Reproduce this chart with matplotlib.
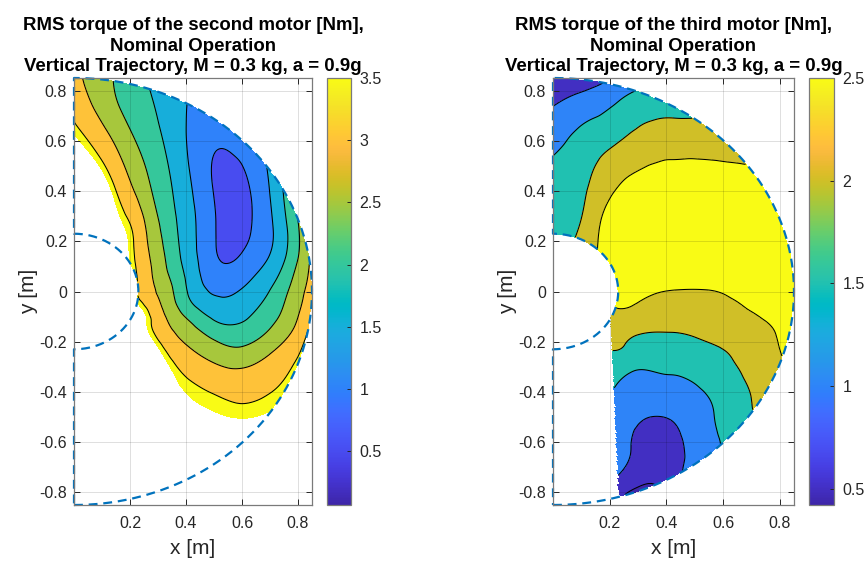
import numpy as np
import matplotlib
matplotlib.use("Agg")
import matplotlib.pyplot as plt
import matplotlib.tri as mtri
from matplotlib.colors import LinearSegmentedColormap, Normalize
from matplotlib.cm import ScalarMappable

plt.rcParams["font.family"] = ["Liberation Sans", "DejaVu Sans"]

# ---------------------------------------------------------------------------
# Workspace of the arm: half annulus x >= 0, R_IN <= r <= R_OUT  [m]
R_IN, R_OUT = 0.23, 0.85

# Sampling grid of the workspace (polar)
angle_deg = [-90, -80, -70, -60, -50, -40, -30, -20, -10, 0,
             10, 20, 30, 40, 50, 60, 70, 80, 90]
radius_m = [0.23, 0.33, 0.43, 0.54, 0.64, 0.75, 0.85]

# RMS torque of motor 2 [Nm]; one row per radius, one column per angle
torque_motor2 = [
    [4.70, 4.60, 4.50, 4.40, 4.35, 4.30, 4.20, 4.00, 3.60, 3.48, 3.50, 3.56, 3.66, 3.80, 4.00, 4.20, 4.40, 4.60, 4.80],
    [4.50, 4.40, 4.30, 4.20, 4.15, 4.00, 3.50, 3.18, 2.89, 2.72, 2.63, 2.67, 2.82, 3.09, 3.45, 3.68, 4.05, 4.30, 4.60],
    [4.35, 4.25, 4.15, 4.10, 4.00, 3.66, 3.13, 2.70, 2.16, 1.78, 1.72, 1.79, 2.00, 2.29, 2.64, 3.08, 3.52, 4.05, 4.40],
    [4.25, 4.15, 4.05, 3.95, 3.78, 3.48, 3.02, 2.42, 1.80, 1.42, 1.06, 1.00, 1.27, 1.61, 2.02, 2.45, 2.95, 3.50, 4.00],
    [4.30, 4.20, 4.10, 3.95, 3.75, 3.52, 3.08, 2.50, 2.05, 1.70, 1.25, 0.90, 0.80, 1.03, 1.50, 2.04, 2.50, 3.07, 3.60],
    [4.40, 4.30, 4.20, 4.00, 3.80, 3.60, 3.34, 3.06, 2.64, 2.38, 1.85, 1.45, 1.10, 0.90, 1.08, 1.64, 2.16, 2.65, 3.33],
    [4.60, 4.50, 4.40, 4.20, 4.00, 3.80, 3.60, 3.56, 3.50, 3.20, 2.92, 2.50, 1.90, 1.30, 1.20, 1.42, 1.92, 2.47, 3.15],
]

# RMS torque of motor 3 [Nm]
torque_motor3 = [
    [1.70, 1.74, 1.78, 1.85, 2.00, 2.15, 2.35, 2.45, 2.60, 2.68, 2.72, 2.72, 2.68, 2.58, 2.45, 2.20, 2.00, 1.80, 1.70],
    [1.55, 1.55, 1.60, 1.70, 1.92, 2.00, 2.06, 2.28, 2.42, 2.58, 2.76, 2.85, 2.85, 2.75, 2.68, 2.47, 2.05, 1.82, 1.66],
    [1.35, 1.35, 1.40, 1.52, 1.47, 1.64, 1.84, 2.05, 2.27, 2.48, 2.75, 2.95, 2.95, 2.88, 2.75, 2.55, 2.15, 1.80, 1.60],
    [1.20, 1.15, 1.20, 1.21, 1.22, 1.45, 1.72, 2.00, 2.25, 2.48, 2.78, 3.00, 2.98, 2.90, 2.78, 2.48, 2.12, 1.75, 1.50],
    [1.15, 1.20, 1.20, 0.89, 1.05, 1.36, 1.75, 2.02, 2.30, 2.57, 2.78, 2.95, 2.92, 2.80, 2.60, 2.30, 1.95, 1.62, 1.27],
    [1.10, 1.20, 0.97, 0.68, 1.11, 1.53, 1.89, 2.20, 2.45, 2.75, 2.75, 2.85, 2.80, 2.60, 2.36, 2.12, 1.76, 1.28, 0.96],
    [1.00, 0.90, 0.40, 0.82, 1.34, 1.78, 2.13, 2.45, 2.65, 2.80, 2.75, 2.72, 2.65, 2.41, 2.14, 1.84, 1.50, 0.90, 0.68],
]

# Contour levels, colour limits and feasibility limits
levels_motor2 = [0.5, 1.0, 1.5, 2.0, 2.5, 3.0, 3.5]
levels_motor3 = [0.5, 1.0, 1.5, 2.0, 2.5]
clim_motor2 = (0.07, 3.5)
clim_motor3 = (0.42, 2.5)
torque_limit_motor2 = 3.65          # larger torques are not admissible
reach_limit_x = (0.235, 0.205)      # motor 3: reachable only right of this edge
reach_limit_y = (-0.82, -0.09)

cbar_ticks_motor2 = [0.5, 1, 1.5, 2, 2.5, 3, 3.5]
cbar_labels_motor2 = ["0.5", "1", "1.5", "2", "2.5", "3", "3.5"]
cbar_ticks_motor3 = [0.5, 1, 1.5, 2, 2.5]
cbar_labels_motor3 = ["0.5", "1", "1.5", "2", "2.5"]
x_ticks = [0.2, 0.4, 0.6, 0.8]
x_labels = ["0.2", "0.4", "0.6", "0.8"]
y_ticks = [-0.8, -0.6, -0.4, -0.2, 0, 0.2, 0.4, 0.6, 0.8]
y_labels = ["-0.8", "-0.6", "-0.4", "-0.2", "0", "0.2", "0.4", "0.6", "0.8"]

titles = [
    "RMS torque of the second motor [Nm],\nNominal Operation\nVertical Trajectory, M = 0.3 kg, a = 0.9g",
    "RMS torque of the third motor [Nm],\nNominal Operation\nVertical Trajectory, M = 0.3 kg, a = 0.9g",
]

# Parula colormap
_parula = [
    [0.2422, 0.1504, 0.6603], [0.2504, 0.1650, 0.7076], [0.2578, 0.1818, 0.7511],
    [0.2647, 0.1978, 0.7952], [0.2706, 0.2147, 0.8364], [0.2751, 0.2342, 0.8710],
    [0.2783, 0.2559, 0.8991], [0.2803, 0.2782, 0.9221], [0.2813, 0.3006, 0.9414],
    [0.2810, 0.3228, 0.9579], [0.2795, 0.3447, 0.9717], [0.2760, 0.3667, 0.9829],
    [0.2699, 0.3892, 0.9906], [0.2602, 0.4123, 0.9952], [0.2440, 0.4358, 0.9988],
    [0.2206, 0.4603, 0.9973], [0.1963, 0.4847, 0.9892], [0.1834, 0.5074, 0.9798],
    [0.1786, 0.5289, 0.9682], [0.1764, 0.5499, 0.9520], [0.1687, 0.5703, 0.9359],
    [0.1540, 0.5902, 0.9218], [0.1460, 0.6091, 0.9079], [0.1380, 0.6276, 0.8973],
    [0.1248, 0.6459, 0.8883], [0.1113, 0.6635, 0.8763], [0.0952, 0.6798, 0.8598],
    [0.0689, 0.6948, 0.8394], [0.0297, 0.7082, 0.8163], [0.0036, 0.7203, 0.7917],
    [0.0067, 0.7312, 0.7660], [0.0433, 0.7411, 0.7394], [0.0964, 0.7500, 0.7120],
    [0.1408, 0.7584, 0.6842], [0.1717, 0.7670, 0.6554], [0.1938, 0.7758, 0.6251],
    [0.2161, 0.7843, 0.5923], [0.2470, 0.7918, 0.5567], [0.2906, 0.7973, 0.5188],
    [0.3406, 0.8008, 0.4789], [0.3909, 0.8029, 0.4354], [0.4456, 0.8024, 0.3909],
    [0.5044, 0.7993, 0.3480], [0.5616, 0.7942, 0.3045], [0.6174, 0.7876, 0.2612],
    [0.6720, 0.7793, 0.2227], [0.7242, 0.7698, 0.1910], [0.7738, 0.7598, 0.1646],
    [0.8203, 0.7498, 0.1535], [0.8634, 0.7406, 0.1596], [0.9035, 0.7330, 0.1774],
    [0.9393, 0.7288, 0.2100], [0.9728, 0.7298, 0.2394], [0.9956, 0.7434, 0.2371],
    [0.9970, 0.7659, 0.2199], [0.9952, 0.7893, 0.2028], [0.9892, 0.8136, 0.1885],
    [0.9786, 0.8386, 0.1766], [0.9676, 0.8639, 0.1643], [0.9610, 0.8890, 0.1537],
    [0.9597, 0.9135, 0.1423], [0.9628, 0.9373, 0.1265], [0.9691, 0.9606, 0.1064],
    [0.9769, 0.9839, 0.0805],
]
parula = LinearSegmentedColormap.from_list("parula", _parula, N=256)

BLUE = (0.0, 0.447, 0.741)
AX_GRAY = "#7a7a7a"
TXT = "#262626"


def workspace_mesh(values):
    th = np.deg2rad(angle_deg)
    R, TH = np.meshgrid(radius_m, th, indexing="ij")
    x = (R * np.cos(TH)).ravel()
    y = (R * np.sin(TH)).ravel()
    nr, nt = R.shape
    tris = []
    for i in range(nr - 1):
        for j in range(nt - 1):
            a = i * nt + j
            b, c = a + 1, a + nt
            d = c + 1
            tris += [[a, c, d], [a, d, b]]
    tri = mtri.Triangulation(x, y, np.array(tris))
    z = np.asarray(values, float).ravel()
    interp = mtri.CubicTriInterpolator(tri, z, kind="min_E")
    refiner = mtri.UniformTriRefiner(tri)
    return refiner.refine_field(z, triinterpolator=interp, subdiv=4)


def draw_panel(ax, cax, values, levels, clim, top, title, reach=False):
    tri_f, z_f = workspace_mesh(values)
    if reach:
        xc = tri_f.x[tri_f.triangles].mean(axis=1)
        yc = tri_f.y[tri_f.triangles].mean(axis=1)
        edge = np.interp(yc, reach_limit_y, reach_limit_x)
        tri_f.set_mask((yc < 0) & (xc < edge))

    norm = Normalize(*clim)
    edges = [0.0] + list(levels) + [top]
    lower = [clim[0]] + list(levels)
    fill_colors = [parula(norm(v)) for v in lower]
    ax.tricontourf(tri_f, z_f, levels=edges, colors=fill_colors, zorder=1)
    ax.tricontour(tri_f, z_f, levels=levels, colors="k", linewidths=0.75,
                  zorder=2)

    # workspace boundary
    t = np.linspace(-np.pi / 2, np.pi / 2, 300)
    bx = np.concatenate([R_OUT * np.cos(t), [0.0], R_IN * np.cos(t[::-1]), [0.0]])
    by = np.concatenate([R_OUT * np.sin(t), [R_IN], R_IN * np.sin(t[::-1]), [-R_OUT]])
    ax.plot(bx, by, ls=(0, (4.0, 2.6)), color=BLUE, lw=1.6, zorder=4,
            clip_on=False)

    ax.set_xlim(0, 0.85)
    ax.set_ylim(-0.85, 0.85)
    ax.set_xticks(x_ticks)
    ax.set_xticklabels(x_labels)
    ax.set_yticks(y_ticks)
    ax.set_yticklabels(y_labels)
    ax.grid(True, color="k", alpha=0.13, lw=0.7, zorder=3)
    ax.set_axisbelow(False)
    ax.tick_params(direction="in", length=4, width=0.7, top=True, right=True,
                   labelsize=11.5, colors=TXT)
    ax.tick_params(axis="x", pad=8)
    ax.tick_params(axis="y", pad=5)
    for s in ax.spines.values():
        s.set_color(AX_GRAY)
        s.set_linewidth(0.9)
        s.set_zorder(5)
    ax.set_xlabel("x [m]", fontsize=15, color=TXT, labelpad=6)
    ax.set_ylabel("y [m]", fontsize=15, color=TXT, labelpad=1)
    ax.set_title(title, fontsize=13.4, fontweight="bold", linespacing=1.27,
                 pad=5, color="black")

    sm = ScalarMappable(norm=norm, cmap=parula)
    cb = ax.figure.colorbar(sm, cax=cax)
    return cb


fig = plt.figure(figsize=(8.67, 5.66), dpi=100)
W, H = 867.0, 566.0


def fig_axes(x0, x1, y0=78, y1=505):
    return fig.add_axes([x0 / W, (H - y1) / H, (x1 - x0) / W, (y1 - y0) / H])


ax1 = fig_axes(74, 312)
cax1 = fig_axes(327, 351)
ax2 = fig_axes(553, 794)
cax2 = fig_axes(809, 834)

cb1 = draw_panel(ax1, cax1, torque_motor2, levels_motor2, clim_motor2,
                 torque_limit_motor2, titles[0])
cb2 = draw_panel(ax2, cax2, torque_motor3, levels_motor3, clim_motor3,
                 10.0, titles[1], reach=True)

for cb, ticks, labels in ((cb1, cbar_ticks_motor2, cbar_labels_motor2),
                          (cb2, cbar_ticks_motor3, cbar_labels_motor3)):
    cb.set_ticks(ticks)
    cb.set_ticklabels(labels)
    cb.ax.tick_params(direction="in", length=3, width=0.7, labelsize=11.5,
                      colors=TXT, pad=6)
    cb.outline.set_edgecolor(AX_GRAY)
    cb.outline.set_linewidth(0.9)

fig.savefig("out.png", dpi=100, facecolor="white")
